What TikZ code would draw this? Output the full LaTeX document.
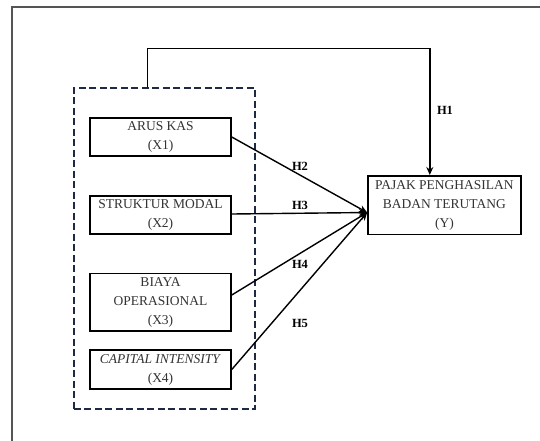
\documentclass[tikz,border=0pt]{standalone}
\usepackage{fontspec}
\setmainfont{Liberation Serif}
\usetikzlibrary{arrows.meta}
\definecolor{frame}{HTML}{555555}
\definecolor{navy}{HTML}{1E2A44}
\definecolor{txt}{HTML}{333333}
\begin{document}
\begin{tikzpicture}[x=1pt,y=-1pt,
  varbox/.style={draw=black,line width=1.5pt,minimum width=141pt,inner sep=0pt,align=center,
    font=\fontsize{13.5}{19}\selectfont,text=txt},
  conn/.style={line width=1.4pt,-{Stealth[length=8pt,width=7pt]}},
  hlab/.style={font=\fontsize{12.5}{14}\selectfont\bfseries}]
\useasboundingbox (0,0) rectangle (540,440);
\fill[white] (0,0) rectangle (540,440);
% outer frame
\draw[frame,line width=2pt] (12,441) -- (12,7) -- (541,7);
% group (dashed)
\node[draw=navy,line width=2pt,dash pattern=on 7pt off 3.5pt,minimum width=181.5pt,minimum height=321pt,inner sep=0pt] (grp) at (164.7,248.5) {};
% variable boxes
\node[varbox,minimum height=38pt] (x1) at (160.5,137) {ARUS KAS\\(X1)};
\node[varbox,minimum height=38pt] (x2) at (160.5,215) {STRUKTUR MODAL\\(X2)};
\node[varbox,minimum height=57.5pt] (x3) at (160.5,302) {BIAYA\\OPERASIONAL\\(X3)};
\node[varbox,minimum height=39pt] (x4) at (160.5,369.5) {\textit{CAPITAL INTENSITY}\\(X4)};
\node[varbox,minimum width=153pt,minimum height=58.5pt] (y) at (444.4,205) {PAJAK PENGHASILAN\\BADAN TERUTANG\\(Y)};
% convergence point
\coordinate (c) at ([yshift=-7.5pt]y.west);
\coordinate (topc) at (147.4,48.2);
% connectors
\draw[conn] (grp.north -| topc) -- (topc) -| ([xshift=-14.6pt]y.north);
\draw[conn] (x1.east) -- (c);
\draw[conn] ([yshift=1pt]x2.east) -- (c);
\draw[conn] ([yshift=7pt]x3.east) -- (c);
\draw[conn] (x4.east) -- (c);
% labels
\node[hlab] (h1) at (445,110) {H1};
\node[hlab] (h2) at (300,166.5) {H2};
\node[hlab] (h3) at (300,205) {H3};
\node[hlab] (h4) at (300,264.5) {H4};
\node[hlab] (h5) at (300,323) {H5};
\end{tikzpicture}
\end{document}
